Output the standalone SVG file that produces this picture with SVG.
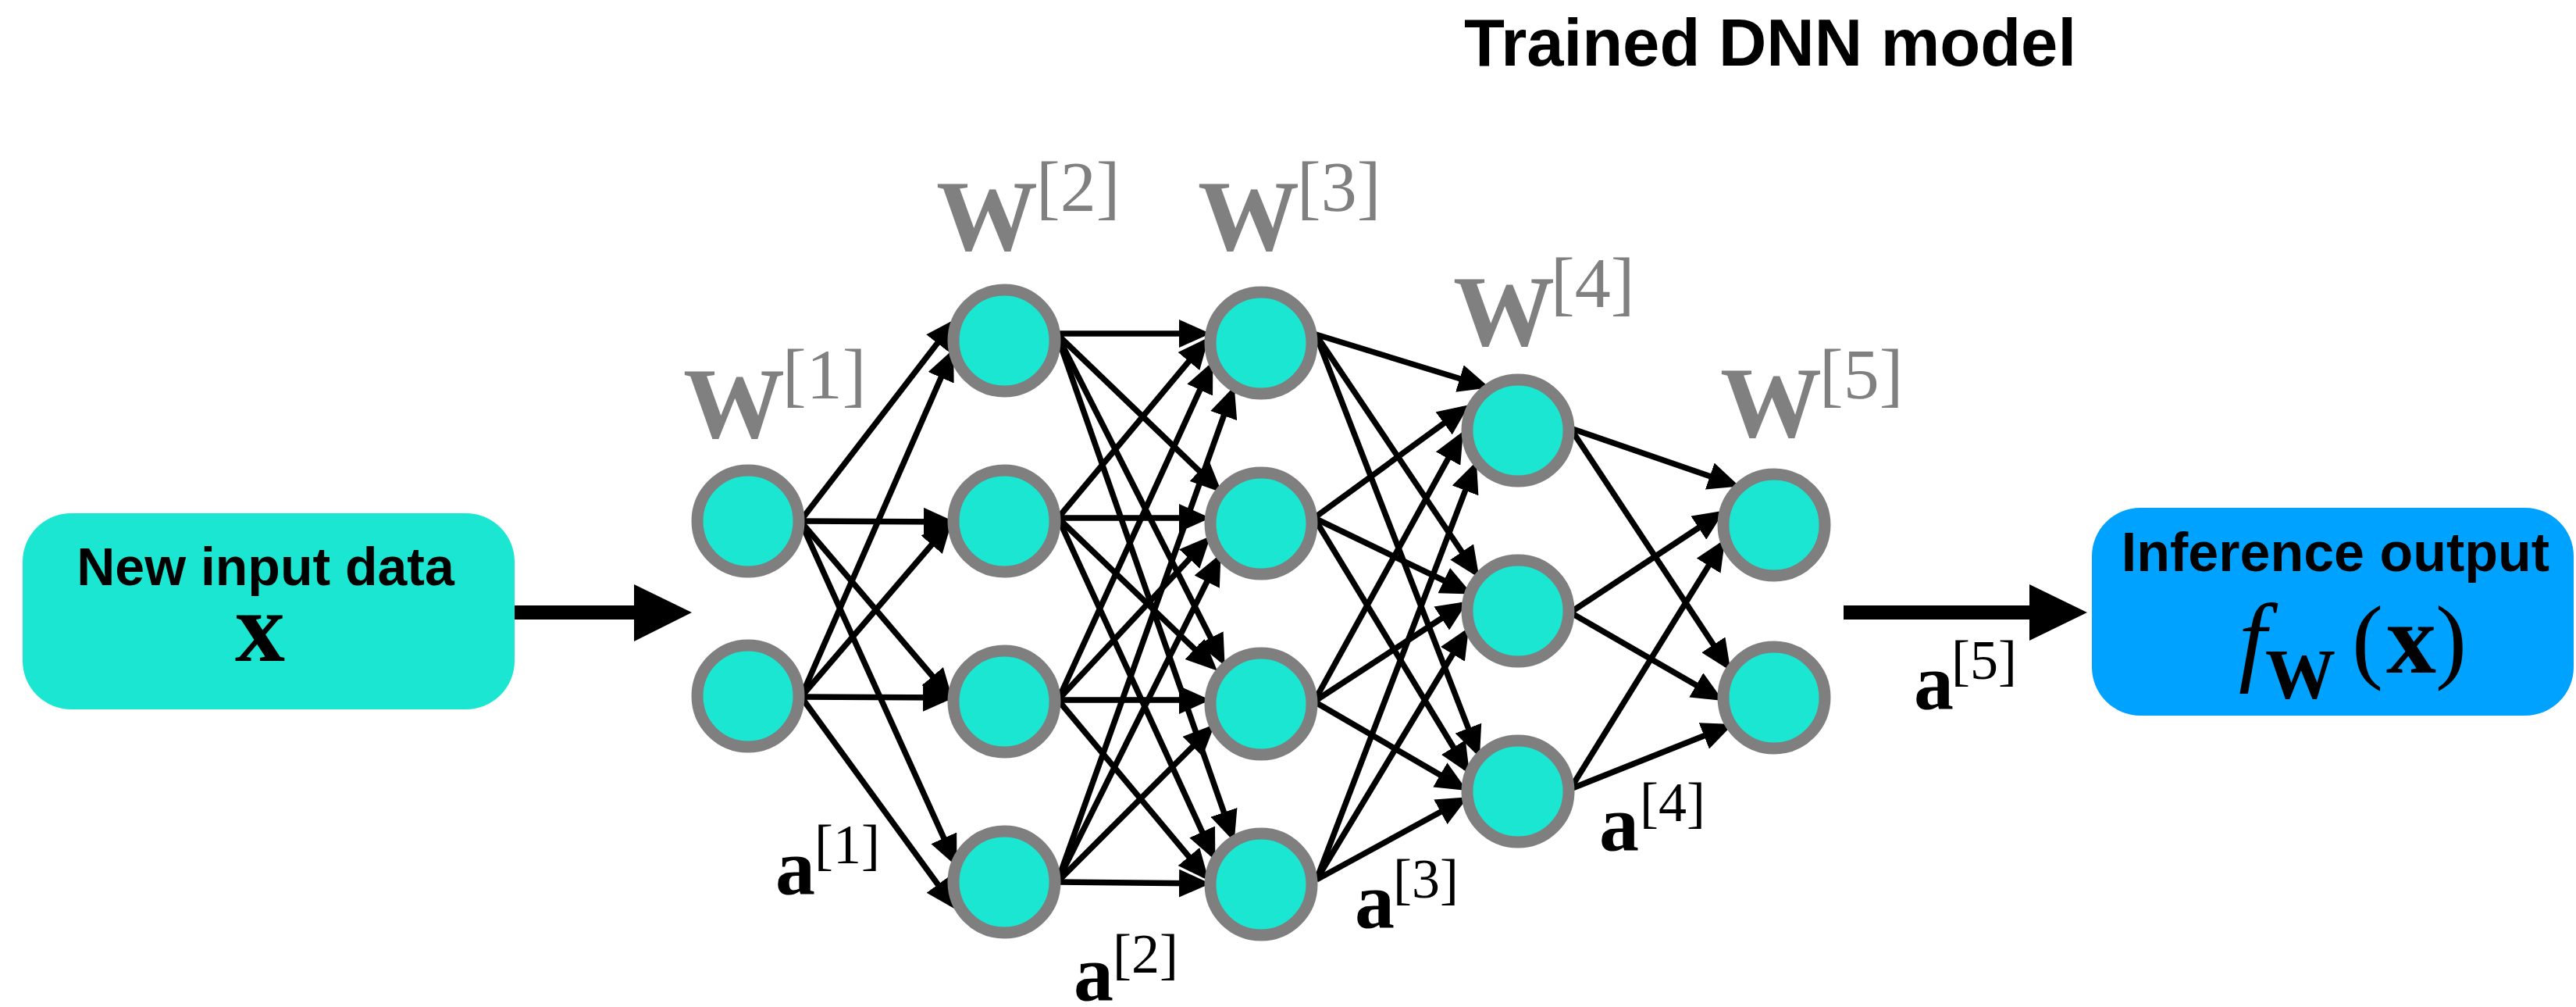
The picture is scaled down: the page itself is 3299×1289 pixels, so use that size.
<svg xmlns="http://www.w3.org/2000/svg" width="3299" height="1289" viewBox="0 0 3299 1289">
  <style>
    .neuron { fill: #1BE6D1; stroke: #7F7F7F; stroke-width: 15; }
    .edge { stroke: #000; stroke-width: 7.5; fill: none; marker-end: url(#head); }
    .big { fill: #000; }
    .sans { font-family: "Liberation Sans", Arial, sans-serif; font-weight: bold; fill: #000; }
    .serif { font-family: "Liberation Serif", "Times New Roman", serif; }
    .wt { font-weight: bold; font-size: 130px; fill: #808080; }
    .wsup { font-size: 92px; fill: #808080; }
    .act { font-weight: bold; font-size: 102px; fill: #000; }
    .asup { font-size: 72px; fill: #000; }
  </style>
  <defs>
    <marker id="head" markerUnits="userSpaceOnUse" markerWidth="40" markerHeight="36" refX="32" refY="18" orient="auto">
      <path d="M0,0 L40,18 L0,36 Z" fill="#000"/>
    </marker>
  </defs>

  <rect width="3299" height="1289" fill="#fff"/>

  <text class="sans" x="2267" y="84" font-size="85" text-anchor="middle">Trained DNN model</text>

  <!-- connectors (drawn below the neurons so arrow tips tuck under the rings) -->
  <g id="connectors">
    <!-- input -> layer 1 -->
    <path class="big" d="M658,775 H812 V748 L886,784 L812,821 V793 H658 Z"/>
    <!-- layer 5 -> output -->
    <path class="big" d="M2361,775 H2599 V748 L2673,784 L2599,820 V793 H2361 Z"/>

    <!-- layer 1 -> layer 2 -->
    <line class="edge" x1="1025" y1="667" x2="1220" y2="414"/>
    <line class="edge" x1="1025" y1="667" x2="1215" y2="668"/>
    <line class="edge" x1="1025" y1="667" x2="1215" y2="890"/>
    <line class="edge" x1="1025" y1="667" x2="1222" y2="1102"/>
    <line class="edge" x1="1026" y1="892" x2="1218" y2="454"/>
    <line class="edge" x1="1026" y1="892" x2="1214" y2="673"/>
    <line class="edge" x1="1026" y1="892" x2="1214" y2="893"/>
    <line class="edge" x1="1026" y1="892" x2="1220" y2="1158"/>

    <!-- layer 2 -> layer 3 -->
    <line class="edge" x1="1353" y1="427" x2="1542" y2="427"/>
    <line class="edge" x1="1353" y1="427" x2="1559" y2="625"/>
    <line class="edge" x1="1353" y1="427" x2="1565" y2="845"/>
    <line class="edge" x1="1353" y1="427" x2="1578" y2="1070"/>
    <line class="edge" x1="1355" y1="663" x2="1543" y2="438"/>
    <line class="edge" x1="1355" y1="663" x2="1542" y2="663"/>
    <line class="edge" x1="1355" y1="663" x2="1553" y2="853"/>
    <line class="edge" x1="1355" y1="663" x2="1553" y2="1094"/>
    <line class="edge" x1="1355" y1="896" x2="1550" y2="470"/>
    <line class="edge" x1="1355" y1="896" x2="1545" y2="692"/>
    <line class="edge" x1="1355" y1="896" x2="1542" y2="896"/>
    <line class="edge" x1="1355" y1="896" x2="1543" y2="1121"/>
    <line class="edge" x1="1354" y1="1129" x2="1578" y2="502"/>
    <line class="edge" x1="1354" y1="1129" x2="1560" y2="716"/>
    <line class="edge" x1="1354" y1="1129" x2="1550" y2="933"/>
    <line class="edge" x1="1354" y1="1129" x2="1542" y2="1131"/>

    <!-- layer 3 -> layer 4 -->
    <line class="edge" x1="1685" y1="428" x2="1900" y2="494"/>
    <line class="edge" x1="1685" y1="428" x2="1890" y2="733"/>
    <line class="edge" x1="1685" y1="428" x2="1892" y2="962"/>
    <line class="edge" x1="1683" y1="663" x2="1875" y2="523"/>
    <line class="edge" x1="1683" y1="663" x2="1878" y2="757"/>
    <line class="edge" x1="1683" y1="663" x2="1878" y2="984"/>
    <line class="edge" x1="1683" y1="898" x2="1870" y2="559"/>
    <line class="edge" x1="1683" y1="898" x2="1873" y2="774"/>
    <line class="edge" x1="1683" y1="898" x2="1872" y2="1008"/>
    <line class="edge" x1="1686" y1="1126" x2="1888" y2="598"/>
    <line class="edge" x1="1686" y1="1126" x2="1877" y2="810"/>
    <line class="edge" x1="1686" y1="1126" x2="1873" y2="1024"/>

    <!-- layer 4 -> layer 5 -->
    <line class="edge" x1="2011" y1="548" x2="2220" y2="620"/>
    <line class="edge" x1="2011" y1="548" x2="2212" y2="852"/>
    <line class="edge" x1="2011" y1="784" x2="2202" y2="658"/>
    <line class="edge" x1="2011" y1="784" x2="2200" y2="893"/>
    <line class="edge" x1="2011" y1="1010" x2="2205" y2="697"/>
    <line class="edge" x1="2011" y1="1010" x2="2212" y2="930"/>
  </g>

  <!-- input and output boxes -->
  <g id="input-box">
    <rect x="29" y="657" width="630" height="251" rx="62" ry="62" fill="#1BE6D1"/>
    <text class="sans" x="340" y="749" font-size="68" text-anchor="middle">New input data</text>
    <text class="serif" x="301" y="846" font-size="128" font-weight="bold">x</text>
  </g>
  <g id="output-box">
    <rect x="2679" y="650" width="617" height="266" rx="62" ry="62" fill="#00A2FF"/>
    <text class="sans" x="2991" y="731" font-size="70" text-anchor="middle">Inference output</text>
    <text class="serif" x="2867" y="861" font-size="128" font-style="italic">f</text>
    <text class="serif" x="2901" y="894" font-size="90" font-weight="bold">W</text>
    <text class="serif" x="3012" y="859" font-size="120">(</text>
    <text class="serif" x="3056" y="861" font-size="128" font-weight="bold">x</text>
    <text class="serif" x="3119" y="859" font-size="120">)</text>
  </g>

  <!-- neurons -->
  <g id="layer1">
    <g id="n1-1"><circle class="neuron" cx="958" cy="667" r="65"/></g>
    <g id="n1-2"><circle class="neuron" cx="958" cy="891" r="65"/></g>
  </g>
  <g id="layer2">
    <g id="n2-1"><circle class="neuron" cx="1286" cy="436" r="65"/></g>
    <g id="n2-2"><circle class="neuron" cx="1286" cy="667" r="65"/></g>
    <g id="n2-3"><circle class="neuron" cx="1286" cy="898" r="65"/></g>
    <g id="n2-4"><circle class="neuron" cx="1286" cy="1129" r="65"/></g>
  </g>
  <g id="layer3">
    <g id="n3-1"><circle class="neuron" cx="1615" cy="439" r="65"/></g>
    <g id="n3-2"><circle class="neuron" cx="1615" cy="670" r="65"/></g>
    <g id="n3-3"><circle class="neuron" cx="1615" cy="901" r="65"/></g>
    <g id="n3-4"><circle class="neuron" cx="1615" cy="1132" r="65"/></g>
  </g>
  <g id="layer4">
    <g id="n4-1"><circle class="neuron" cx="1944" cy="551" r="65"/></g>
    <g id="n4-2"><circle class="neuron" cx="1944" cy="782" r="65"/></g>
    <g id="n4-3"><circle class="neuron" cx="1944" cy="1013" r="65"/></g>
  </g>
  <g id="layer5">
    <g id="n5-1"><circle class="neuron" cx="2272" cy="672" r="65"/></g>
    <g id="n5-2"><circle class="neuron" cx="2272" cy="893" r="65"/></g>
  </g>

  <!-- weight labels -->
  <g id="weights" class="serif">
    <text class="wt" x="875" y="560">W</text><text class="wsup" x="1002" y="510">[1]</text>
    <text class="wt" x="1199" y="320">W</text><text class="wsup" x="1327" y="270">[2]</text>
    <text class="wt" x="1534" y="320">W</text><text class="wsup" x="1661" y="270">[3]</text>
    <text class="wt" x="1861" y="442">W</text><text class="wsup" x="1986" y="393">[4]</text>
    <text class="wt" x="2203" y="559">W</text><text class="wsup" x="2330" y="510">[5]</text>
  </g>

  <!-- activation labels -->
  <g id="activations" class="serif">
    <text class="act" x="993" y="1144">a</text><text class="asup" x="1043" y="1105">[1]</text>
    <text class="act" x="1375" y="1280">a</text><text class="asup" x="1425" y="1245">[2]</text>
    <text class="act" x="1735" y="1187">a</text><text class="asup" x="1784" y="1149">[3]</text>
    <text class="act" x="2048" y="1088">a</text><text class="asup" x="2100" y="1051">[4]</text>
    <text class="act" x="2451" y="907">a</text><text class="asup" x="2499" y="869">[5]</text>
  </g>
</svg>
